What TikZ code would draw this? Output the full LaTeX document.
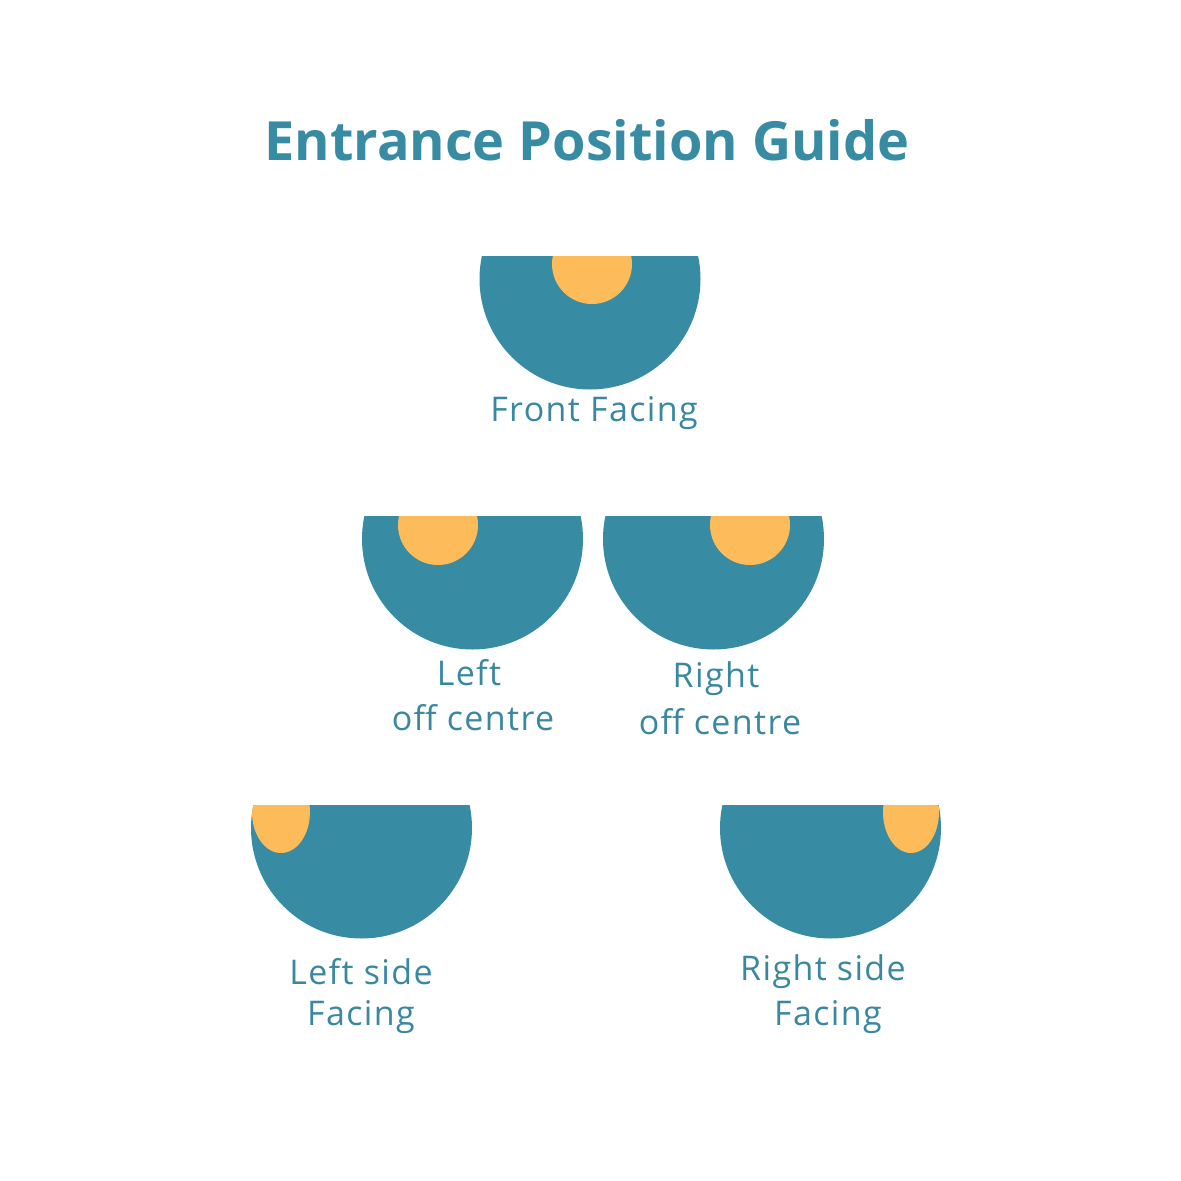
\documentclass[tikz,border=0pt]{standalone}
\usepackage{fontspec}
\setmainfont{Open Sans}
\newfontfamily\captionfont[LetterSpace=4]{Open Sans}
\usepackage{tikz}
\definecolor{seatblue}{RGB}{55,139,163}
\definecolor{dotorange}{RGB}{253,187,90}
\definecolor{labelblue}{RGB}{58,136,160}
\tikzset{
  seat/.style={fill=seatblue},
  dot/.style={fill=dotorange},
  caption/.style={text=labelblue, font=\captionfont\fontsize{34}{40}\selectfont, anchor=base, inner sep=0pt},
  heading/.style={text=seatblue, font=\fontsize{54}{64}\selectfont\bfseries, anchor=base, inner sep=0pt}
}
% half disc with its entrance dot: centre x, centre y, dot x, dot y, dot rx, dot ry
\newcommand{\entrance}[6]{%
  \begin{scope}
    \clip (#1-115,#2-23) rectangle (#1+115,#2+115);
    \fill[seat] (#1,#2) circle (110.5);
    \clip (#1,#2) circle (110.5);
    \fill[dot] (#3,#4) ellipse (#5 and #6);
  \end{scope}}

\begin{document}
\begin{tikzpicture}[x=1pt,y=-1pt]
  \fill[white] (0,0) rectangle (1181,1181);
  \useasboundingbox (0,0) rectangle (1181,1181);

  \node[heading] (title) at (587,160) {Entrance Position Guide};

  \entrance{590}{279}{592}{264}{40}{40}
  \entrance{472.5}{539}{438}{525}{40}{40}
  \entrance{713.5}{539}{750}{525}{40}{40}
  \entrance{361.5}{828}{281}{812}{29}{41}
  \entrance{830.5}{828}{911}{812}{28}{41}

  \node[caption] (front) at (594,421) {Front Facing};
  \node[caption] (left1) at (469,685) {Left};
  \node[caption] (left2) at (473,730) {off centre};
  \node[caption] (right1) at (716,687) {Right};
  \node[caption] (right2) at (720,734) {off centre};
  \node[caption] (lside1) at (361,984) {Left side};
  \node[caption] (lside2) at (361,1025) {Facing};
  \node[caption] (rside1) at (823,980) {Right side};
  \node[caption] (rside2) at (828,1025) {Facing};
\end{tikzpicture}
\end{document}
